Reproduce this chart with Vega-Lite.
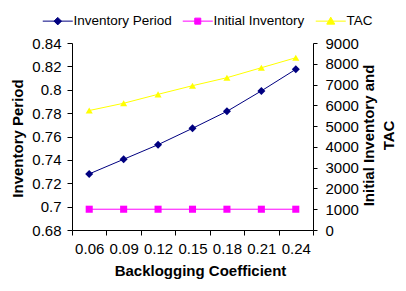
{
  "$schema": "https://vega.github.io/schema/vega-lite/v6.json",
  "width": 241,
  "height": 187,
  "autosize": {"type": "none"},
  "padding": {"left": 72, "top": 43, "right": 93, "bottom": 61},
  "background": "white",
  "config": {
    "view": {"stroke": null},
    "font": "Liberation Sans",
    "axis": {
      "domainColor": "black",
      "tickColor": "black",
      "labelColor": "black",
      "titleColor": "black",
      "labelFont": "Liberation Sans",
      "titleFont": "Liberation Sans",
      "labelFontSize": 15,
      "titleFontSize": 15,
      "titleFontWeight": "bold",
      "grid": false,
      "domainWidth": 1,
      "tickWidth": 1
    }
  },
  "data": {
    "values": [
      {"x": "0.06", "series": "Inventory Period", "value": 0.728},
      {"x": "0.09", "series": "Inventory Period", "value": 0.7405},
      {"x": "0.12", "series": "Inventory Period", "value": 0.753},
      {"x": "0.15", "series": "Inventory Period", "value": 0.767},
      {"x": "0.18", "series": "Inventory Period", "value": 0.7815},
      {"x": "0.21", "series": "Inventory Period", "value": 0.799},
      {"x": "0.24", "series": "Inventory Period", "value": 0.8175},
      {"x": "0.06", "series": "Initial Inventory", "value": 1000},
      {"x": "0.09", "series": "Initial Inventory", "value": 1000},
      {"x": "0.12", "series": "Initial Inventory", "value": 1000},
      {"x": "0.15", "series": "Initial Inventory", "value": 1000},
      {"x": "0.18", "series": "Initial Inventory", "value": 1000},
      {"x": "0.21", "series": "Initial Inventory", "value": 1000},
      {"x": "0.24", "series": "Initial Inventory", "value": 1000},
      {"x": "0.06", "series": "TAC", "value": 5750},
      {"x": "0.09", "series": "TAC", "value": 6100},
      {"x": "0.12", "series": "TAC", "value": 6530},
      {"x": "0.15", "series": "TAC", "value": 6945},
      {"x": "0.18", "series": "TAC", "value": 7330},
      {"x": "0.21", "series": "TAC", "value": 7810},
      {"x": "0.24", "series": "TAC", "value": 8290}
    ]
  },
  "encoding": {
    "x": {
      "field": "x",
      "type": "ordinal",
      "sort": null,
      "bandPosition": 0.5,
      "scale": {"type": "band", "paddingInner": 0, "paddingOuter": 0},
      "axis": {
        "title": "Backlogging Coefficient",
        "labelAngle": 0,
        "tickBand": "extent",
        "tickSize": 5,
        "labelPadding": 6,
        "titleX": 128,
        "titleY": 40,
        "titleAlign": "center",
        "titleBaseline": "middle"
      }
    }
  },
  "layer": [
    {
      "transform": [{"filter": "datum.series === 'Inventory Period'"}],
      "encoding": {
        "y": {
          "field": "value",
          "type": "quantitative",
          "scale": {"domain": [0.68, 0.84], "nice": false, "zero": false},
          "axis": {
            "title": "Inventory Period",
            "values": [0.68, 0.7, 0.72, 0.74, 0.76, 0.78, 0.8, 0.82, 0.84],
            "format": ".2~f",
            "tickSize": 5,
            "labelPadding": 6,
            "titleAngle": -90,
            "titleX": -55,
            "titleY": 95,
            "titleAlign": "center",
            "titleBaseline": "middle"
          }
        },
        "color": {
          "field": "series",
          "type": "nominal",
          "scale": {
            "domain": ["Inventory Period", "Initial Inventory", "TAC"],
            "range": ["#000080", "#FF00FF", "#FFFF00"]
          },
          "legend": {
            "title": null,
            "orient": "none",
            "direction": "horizontal",
            "legendX": -21,
            "legendY": -29,
            "symbolSize": 100,
            "labelOffset": 9,
            "columnPadding": 8,
            "labelFontSize": 13.5,
            "labelFont": "Liberation Sans",
            "labelColor": "black",
            "encode": {
              "symbols": {
                "update": {
                  "shape": {"signal": "datum.value === 'Inventory Period' ? 'M-3,0H3M0,-0.75L0.75,0L0,0.75L-0.75,0Z' : datum.value === 'Initial Inventory' ? 'M-3,0H3M-0.6,-0.6H0.6V0.6H-0.6Z' : 'M-3,0H3M0,-0.8L0.8,0.6H-0.8Z'"},
                  "fill": {"signal": "scale('color', datum.value)"},
                  "stroke": {"signal": "scale('color', datum.value)"},
                  "strokeWidth": {"value": 1},
                  "opacity": {"value": 1}
                }
              }
            }
          }
        }
      },
      "layer": [
        {"mark": {"type": "line", "strokeWidth": 1}},
        {"mark": {"type": "point", "shape": "diamond", "filled": true, "size": 64, "opacity": 1}}
      ]
    },
    {
      "transform": [{"filter": "datum.series !== 'Inventory Period'"}],
      "encoding": {
        "y": {
          "field": "value",
          "type": "quantitative",
          "scale": {"domain": [0, 9000], "nice": false},
          "axis": {
            "orient": "right",
            "title": ["Initial Inventory and", "TAC"],
            "values": [0, 1000, 2000, 3000, 4000, 5000, 6000, 7000, 8000, 9000],
            "format": "d",
            "tickSize": 4,
            "labelPadding": 8,
            "titleAngle": -90,
            "titleX": 55,
            "titleY": 92,
            "titleAlign": "center",
            "titleBaseline": "middle",
            "titleLineHeight": 20
          }
        },
        "color": {"field": "series", "type": "nominal"}
      },
      "layer": [
        {"mark": {"type": "line", "strokeWidth": 1}},
        {
          "mark": {"type": "point", "filled": true, "size": 50, "opacity": 1},
          "encoding": {
            "shape": {
              "field": "series",
              "type": "nominal",
              "scale": {"domain": ["Initial Inventory", "TAC"], "range": ["square", "triangle-up"]},
              "legend": null
            }
          }
        }
      ]
    }
  ],
  "resolve": {"scale": {"y": "independent"}}
}
